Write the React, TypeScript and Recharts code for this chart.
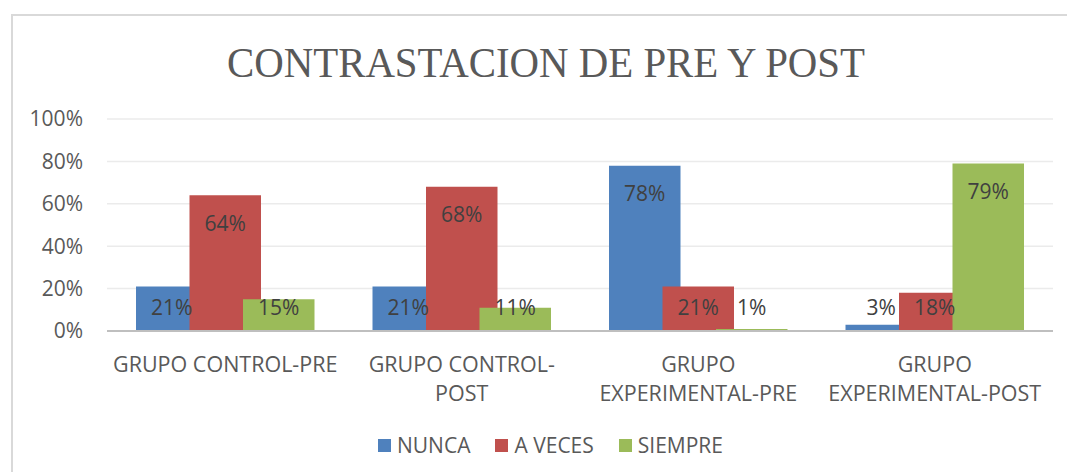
import React from "react";
import { BarChart, Bar, XAxis, YAxis, CartesianGrid, Legend, LabelList } from "recharts";

const categories = [
  "GRUPO CONTROL-PRE",
  "GRUPO CONTROL-POST",
  "GRUPO EXPERIMENTAL-PRE",
  "GRUPO EXPERIMENTAL-POST",
];
const tickLines = [
  ["GRUPO CONTROL-PRE"],
  ["GRUPO CONTROL-", "POST"],
  ["GRUPO", "EXPERIMENTAL-PRE"],
  ["GRUPO", "EXPERIMENTAL-POST"],
];
const nunca = [21, 21, 78, 3];
const aVeces = [64, 68, 21, 18];
const siempre = [15, 11, 1, 79];
const yTicks = [0, 20, 40, 60, 80, 100];
const seriesNames = ["NUNCA", "A VECES", "SIEMPRE"];
const seriesColors = ["#4F81BD", "#C0504D", "#9BBB59"];
const title = "CONTRASTACION DE PRE Y POST";

const data = categories.map((c, i) => ({
  name: c,
  nunca: nunca[i],
  aVeces: aVeces[i],
  siempre: siempre[i],
}));

const FONT = "'Open Sans', 'Noto Sans', sans-serif";

const renderLabel = (props: any) => {
  const { x, y, width, height, value } = props;
  const xx = Number(x);
  const yy = Number(y);
  const w = Number(width);
  const h = Number(height);
  const cx = xx + w / 2;
  const cy = Math.min(yy + 28, yy + h - 24);
  return (
    <text x={cx} y={cy + 7.5} textAnchor="middle" fontFamily={FONT} fontSize={21} fill="#404040">
      {value}%
    </text>
  );
};

const XTick = (props: any) => {
  const { x, y, index } = props;
  const lines = tickLines[index] || [String(props.payload?.value)];
  return (
    <g>
      {lines.map((l: string, k: number) => (
        <text key={k} x={x} y={y + 41 + k * 28.5} textAnchor="middle" fontFamily={FONT} fontSize={21.5} fill="#595959">
          {l}
        </text>
      ))}
    </g>
  );
};

const LegendContent = () => (
  <div style={{ display: "flex", alignItems: "center", fontFamily: FONT, fontSize: 21, lineHeight: "28px", color: "#595959", whiteSpace: "nowrap" }}>
    {seriesNames.map((n, i) => (
      <div key={n} style={{ display: "flex", alignItems: "center", marginRight: i < seriesNames.length - 1 ? 25 : 0 }}>
        <span style={{ display: "inline-block", width: 13, height: 13, background: seriesColors[i], marginRight: 6 }} />
        <span>{n}</span>
      </div>
    ))}
  </div>
);

export default function App() {
  return (
    <div style={{ position: "absolute", left: 0, top: 0, width: 1067, height: 472, background: "#fff", overflow: "hidden" }}>
      <div style={{ position: "absolute", left: 11, top: 14, width: 1100, height: 500, borderLeft: "2px solid #D9D9D9", borderTop: "2px solid #D9D9D9" }} />
      <svg width={1067} height={100} style={{ position: "absolute", left: 0, top: 0 }}>
        <text x={546} y={77} textAnchor="middle" fontFamily="'Liberation Serif', 'DejaVu Serif', serif" fontSize={42} fill="#595959" textLength={638} lengthAdjust="spacingAndGlyphs">
          {title}
        </text>
      </svg>
      <div style={{ position: "absolute", left: 0, top: 0 }}>
        <BarChart width={1067} height={472} data={data} margin={{ top: 119, right: 14, bottom: 0, left: 0 }} barGap={-18} barSize={71.5}>
          <CartesianGrid vertical={false} stroke="#EBEBEB" strokeWidth={1.5} />
          <XAxis
            dataKey="name"
            axisLine={{ stroke: "#BFBFBF", strokeWidth: 2 }}
            tickLine={false}
            tickSize={0}
            tickMargin={0}
            interval={0}
            tick={<XTick />}
            height={141}
          />
          <YAxis
            width={107}
            domain={[0, 100]}
            ticks={yTicks}
            tickFormatter={(v: number) => `${v}%`}
            axisLine={false}
            tickLine={false}
            tickSize={0}
            tickMargin={24}
            tick={{ fontFamily: FONT, fontSize: 21, fill: "#595959" }}
          />
          <Legend
            layout="horizontal"
            verticalAlign="middle"
            align="center"
            content={<LegendContent />}
            wrapperStyle={{ left: 378, top: 431, width: "auto", height: 28 }}
          />
          <Bar dataKey="nunca" name={seriesNames[0]} fill={seriesColors[0]} isAnimationActive={false}>
            <LabelList dataKey="nunca" content={renderLabel} />
          </Bar>
          <Bar dataKey="aVeces" name={seriesNames[1]} fill={seriesColors[1]} isAnimationActive={false}>
            <LabelList dataKey="aVeces" content={renderLabel} />
          </Bar>
          <Bar dataKey="siempre" name={seriesNames[2]} fill={seriesColors[2]} isAnimationActive={false}>
            <LabelList dataKey="siempre" content={renderLabel} />
          </Bar>
        </BarChart>
      </div>
    </div>
  );
}
